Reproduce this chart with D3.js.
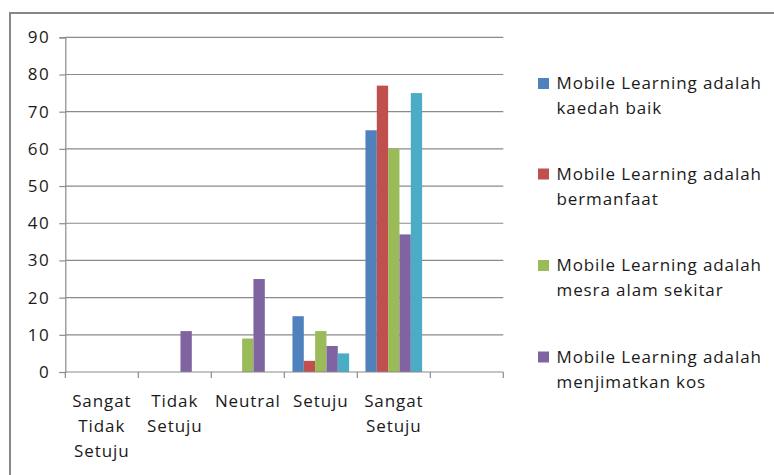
<!DOCTYPE html>
<html>
<head>
<meta charset="utf-8">
<script src="https://cdn.jsdelivr.net/npm/d3@7"></script>
<style>
  html, body { margin: 0; padding: 0; background: #ffffff; }
  svg { display: block; }
  text { font-family: "Open Sans", Lato, sans-serif; fill: #1a1a1a; }
</style>
</head>
<body>
<svg id="chart" width="774" height="475"></svg>
<script>
// Survey response categories (the last slot is left empty)
const categories = ["Sangat Tidak Setuju", "Tidak Setuju", "Neutral", "Setuju", "Sangat Setuju", ""];

// One value per category for each statement
const kaedahBaik     = [0, 0, 0, 15, 65, 0];
const bermanfaat     = [0, 0, 0, 3, 77, 0];
const mesraAlam      = [0, 0, 9, 11, 60, 0];
const menjimatkanKos = [0, 11, 25, 7, 37, 0];
const siriKelima     = [0, 0, 0, 5, 75, 0];

const seriesNames = [
  "Mobile Learning adalah kaedah baik",
  "Mobile Learning adalah bermanfaat",
  "Mobile Learning adalah mesra alam sekitar",
  "Mobile Learning adalah menjimatkan kos",
  "Siri 5"
];
const seriesValues = [kaedahBaik, bermanfaat, mesraAlam, menjimatkanKos, siriKelima];
const seriesColors = ["#4F81BD", "#C0504D", "#9BBB59", "#8064A2", "#4BACC6"];

// Legend lists the first four statements, each wrapped over two lines
const legendLines = [
  ["Mobile Learning adalah", "kaedah baik"],
  ["Mobile Learning adalah", "bermanfaat"],
  ["Mobile Learning adalah", "mesra alam sekitar"],
  ["Mobile Learning adalah", "menjimatkan kos"]
];

const yTicks = [0, 10, 20, 30, 40, 50, 60, 70, 80, 90];

const svg = d3.select("#chart");
const plot = { left: 65.3, right: 503.3, top: 37.3, bottom: 372 };
const gridColor = "#8a8a8a";
const fontSize = 17;
const spacing = 0.9;

// Outer frame (top and left edges of the chart area)
svg.append("path")
  .attr("d", `M10,480 L10,13 L780,13`)
  .attr("fill", "none")
  .attr("stroke", "#878787")
  .attr("stroke-width", 2);

const x = d3.scaleBand().domain(d3.range(categories.length)).range([plot.left, plot.right]).padding(0);
const xInner = d3.scaleBand().domain(d3.range(seriesValues.length)).range([0, x.bandwidth()])
  .paddingInner(0).paddingOuter(0.72);
const y = d3.scaleLinear().domain([0, 90]).range([plot.bottom, plot.top]);

// Horizontal gridlines
svg.append("g").selectAll("line")
  .data(yTicks.filter(t => t > 0))
  .join("line")
  .attr("x1", plot.left).attr("x2", plot.right)
  .attr("y1", d => y(d)).attr("y2", d => y(d))
  .attr("stroke", gridColor).attr("stroke-width", 1.2);

// Bars
const groups = svg.append("g").selectAll("g")
  .data(seriesValues)
  .join("g")
  .attr("fill", (d, i) => seriesColors[i]);

groups.each(function(vals, si) {
  d3.select(this).selectAll("rect")
    .data(vals.map((v, ci) => ({ v, ci })).filter(d => d.v > 0))
    .join("rect")
    .attr("x", d => x(d.ci) + xInner(si))
    .attr("width", xInner.bandwidth())
    .attr("y", d => y(d.v))
    .attr("height", d => y(0) - y(d.v));
});

// Y axis
const yAxis = d3.axisLeft(y).tickValues(yTicks).tickSize(6).tickPadding(9);
const gy = svg.append("g").attr("transform", `translate(${plot.left},0)`).call(yAxis);
gy.select(".domain").attr("stroke", gridColor).attr("stroke-width", 1.2);
gy.selectAll(".tick line").attr("stroke", gridColor).attr("stroke-width", 1.2);
gy.selectAll(".tick text")
  .attr("font-size", fontSize)
  .attr("letter-spacing", 1.6)
  .attr("font-family", "'Open Sans', sans-serif")
  .attr("fill", "#1a1a1a");

// X axis: baseline and tick marks at category boundaries
const boundaries = d3.range(categories.length + 1).map(i => plot.left + i * x.step());
svg.append("line")
  .attr("x1", plot.left).attr("x2", plot.right)
  .attr("y1", y(0)).attr("y2", y(0))
  .attr("stroke", gridColor).attr("stroke-width", 1.2);
svg.append("g").selectAll("line")
  .data(boundaries)
  .join("line")
  .attr("x1", d => d).attr("x2", d => d)
  .attr("y1", y(0)).attr("y2", y(0) + 6)
  .attr("stroke", gridColor).attr("stroke-width", 1.2);

// Category labels, wrapped word by word
const catLines = [["Sangat", "Tidak", "Setuju"], ["Tidak", "Setuju"], ["Neutral"], ["Setuju"], ["Sangat", "Setuju"], []];
svg.append("g").selectAll("text")
  .data(categories)
  .join("text")
  .attr("text-anchor", "middle")
  .attr("font-size", fontSize)
  .attr("letter-spacing", spacing)
  .attr("x", (d, i) => x(i) + x.bandwidth() / 2)
  .attr("y", 406.5)
  .each(function(d, i) {
    d3.select(this).selectAll("tspan")
      .data(catLines[i])
      .join("tspan")
      .attr("x", x(i) + x.bandwidth() / 2)
      .attr("dy", (t, j) => j === 0 ? 0 : 25)
      .text(t => t);
  });

// Legend
const legend = svg.append("g");
const legendTop = [83.5, 174, 265.5, 357];
legendLines.forEach((lines, i) => {
  legend.append("rect")
    .attr("x", 538).attr("y", legendTop[i] - 5.5)
    .attr("width", 11).attr("height", 11)
    .attr("fill", seriesColors[i]);
  const t = legend.append("text")
    .attr("x", 556.5).attr("y", legendTop[i] + 5.5)
    .attr("font-size", fontSize)
    .attr("letter-spacing", spacing);
  t.selectAll("tspan").data(lines).join("tspan")
    .attr("x", 556.5)
    .attr("dy", (s, j) => j === 0 ? 0 : 25)
    .text(s => s);
});
</script>
</body>
</html>
